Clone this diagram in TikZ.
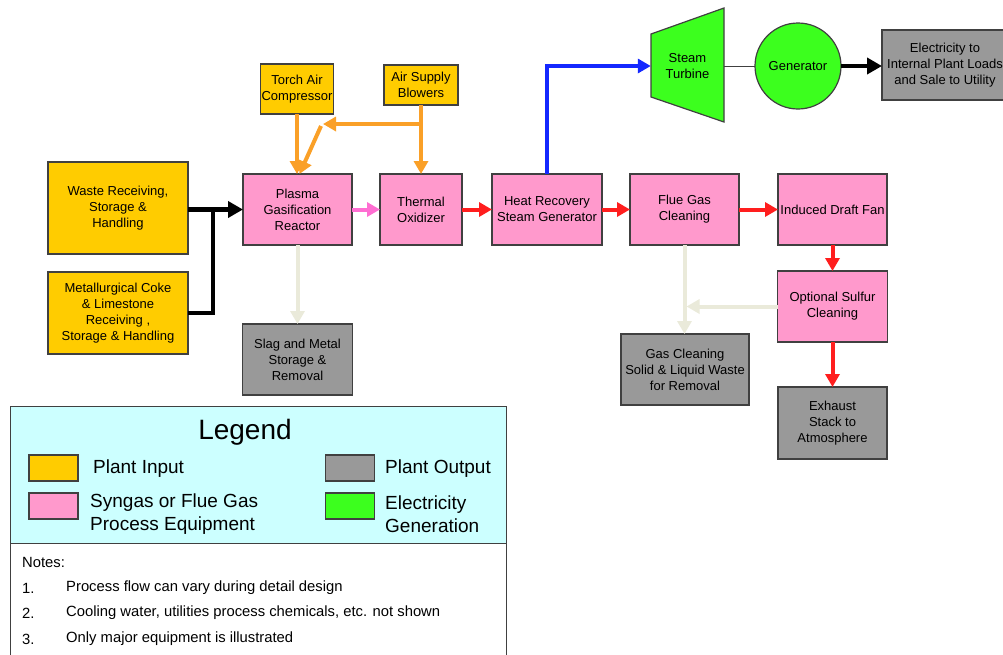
\documentclass[tikz,border=0pt]{standalone}
\usepackage{fontspec}
\setmainfont{Liberation Sans}
\usepackage{tikz}
\usetikzlibrary{arrows.meta, positioning, calc}
\definecolor{inputcolor}{RGB}{255,204,0}
\definecolor{gascolor}{RGB}{255,153,204}
\definecolor{outcolor}{RGB}{153,153,153}
\definecolor{elecolor}{RGB}{60,255,30}
\definecolor{legendcolor}{RGB}{204,255,255}
\definecolor{edgecolor}{RGB}{64,64,64}
\definecolor{aircolor}{RGB}{250,160,40}
\definecolor{fluecolor}{RGB}{255,30,30}
\definecolor{steamcolor}{RGB}{20,40,255}
\definecolor{syncolor}{RGB}{255,110,210}
\definecolor{slagcolor}{RGB}{234,234,218}

\begin{document}
\begin{tikzpicture}[
    x=1pt, y=-1pt,
    box/.style={rectangle, draw=edgecolor, line width=1.2pt, outer sep=0pt, align=center, inner sep=1pt, font=\fontsize{13}{16}\selectfont},
    inbox/.style={box, fill=inputcolor},
    gasbox/.style={box, fill=gascolor, minimum width=109pt, minimum height=71pt},
    outbox/.style={box, fill=outcolor},
    swatch/.style={rectangle, draw=edgecolor, line width=1.2pt, minimum width=49pt, minimum height=26pt, inner sep=0pt},
    legtext/.style={anchor=west, align=left, inner sep=0pt, font=\fontsize{19}{23}\selectfont},
    notetext/.style={anchor=west, inner sep=0pt, font=\fontsize{14.8}{17}\selectfont},
    flow/.style={line width=4pt, -{Triangle[length=13pt, width=14pt]}},
    feed/.style={line width=4.5pt, black},
]
\useasboundingbox (0,0) rectangle (1003,654);

% process chain
\node[gasbox] (plasma) at (297.5,209.5) {Plasma\\Gasification\\Reactor};
\node[gasbox, minimum width=82pt, right=28pt of plasma] (thermal) {Thermal\\Oxidizer};
\node[gasbox, minimum width=110pt, right=30pt of thermal] (hrsg) {Heat Recovery\\Steam Generator};
\node[gasbox, right=28pt of hrsg] (fgc) {Flue Gas\\Cleaning};
\node[gasbox, right=39pt of fgc] (idf) {Induced Draft Fan};
\node[gasbox, minimum width=110pt, below=26pt of idf] (osc) {Optional Sulfur\\Cleaning};
\node[outbox, minimum width=109pt, minimum height=72pt, below=45pt of osc] (exhaust) {Exhaust\\Stack to\\Atmosphere};
\node[outbox, minimum width=128pt, minimum height=71pt] (gcw) at (685,369.5) {Gas Cleaning\\Solid \& Liquid Waste\\for Removal};
\node[outbox, minimum width=110pt, minimum height=71pt, below=79pt of plasma] (slag) {Slag and Metal\\Storage \&\\Removal};

% inputs
\node[inbox, minimum width=140pt, minimum height=92pt] (waste) at (118,208) {Waste Receiving,\\Storage \&\\Handling};
\node[inbox, minimum width=140pt, minimum height=82pt, below=18pt of waste] (coke) {Metallurgical Coke\\\& Limestone\\Receiving ,\\Storage \& Handling};
\node[inbox, minimum width=73pt, minimum height=50pt] (torch) at (297,89) {Torch Air\\Compressor};
\node[inbox, minimum width=74pt, minimum height=40pt] (blowers) at (421,85) {Air Supply\\Blowers};

% power block
\draw[draw=edgecolor, line width=1.2pt, fill=elecolor] (651,34) -- (724,8) -- (724,122) -- (651,97) -- cycle;
\node[align=center, inner sep=0pt, minimum width=73pt, minimum height=60pt, font=\fontsize{13}{16}\selectfont] (turbine) at (687.5,66) {Steam\\Turbine};
\node[box, circle, fill=elecolor, minimum size=86pt] (gen) at (798,66) {Generator};
\node[outbox, minimum width=126pt, minimum height=70pt] (elec) at (945,65) {Electricity to\\Internal Plant Loads\\and Sale to Utility};

% feed lines
\coordinate (join) at (213,209.5);
\draw[feed] (coke.east) -| (join);
\draw[feed, -{Triangle[length=15pt, width=16pt]}] (waste.east |- join) -- (plasma.west);

% air lines
\coordinate (airsplit) at (421,124);
\coordinate (airtip) at (323,124);
\coordinate (airbend) at (321,126);
\draw[flow, aircolor] (torch.south) -- (torch.south |- plasma.north);
\draw[flow, aircolor] (blowers.south) -- (thermal.north);
\draw[flow, aircolor] (airsplit) -- (airtip);
\draw[flow, aircolor] (airbend) -- ([xshift=2pt]plasma.north);

% gas lines
\draw[flow, syncolor] (plasma) -- (thermal);
\draw[flow, fluecolor] (thermal) -- (hrsg);
\draw[flow, fluecolor] (hrsg) -- (fgc);
\draw[flow, fluecolor] (fgc) -- (idf);
\draw[flow, fluecolor] (idf.south) -- (idf.south |- osc.north);
\draw[flow, fluecolor] (osc.south) -- (osc.south |- exhaust.north);

% residue lines
\draw[flow, slagcolor] (plasma.south) -- (slag.north);
\draw[flow, slagcolor] (fgc.south) -- (fgc.south |- gcw.north);
\draw[flow, slagcolor] (osc.west) -- ([xshift=2pt]osc.west -| fgc.south);

% steam and power
\draw[flow, steamcolor] (hrsg.north) |- (turbine.west);
\draw[edgecolor, line width=0.8pt] (turbine.east) -- (gen.west);
\draw[feed, -{Triangle[length=15pt, width=16pt]}] (gen.east) -- (gen.east -| elec.west);

% legend
\node[draw=edgecolor, line width=1.2pt, fill=legendcolor, inner sep=0pt, minimum width=496pt, minimum height=137pt, anchor=north west] (legend) at (10,406) {};
\node[draw=edgecolor, line width=1.2pt, fill=white, inner sep=0pt, minimum width=496pt, minimum height=113pt, anchor=north west] (notes) at (10,543) {};
\node[font=\fontsize{28}{32}\selectfont] (legtitle) at (245,432) {Legend};
\node[swatch, fill=inputcolor] (keyin) at (53.5,468) {};
\node[swatch, fill=gascolor] (keygas) at (53.5,506) {};
\node[swatch, fill=outcolor] (keyout) at (350,468) {};
\node[swatch, fill=elecolor] (keyele) at (350,506) {};
\node[legtext] (txtin) at (93,469) {Plant Input};
\node[legtext] (txtgas) at (90,514.5) {Syngas or Flue Gas\\Process Equipment};
\node[legtext] (txtout) at (385,469) {Plant Output};
\node[legtext] (txtele) at (385,514.5) {Electricity\\Generation};

% notes
\node[notetext] (notehead) at (22,562) {Notes:};
\node[notetext] (num1) at (22,588) {1.};
\node[notetext] (num2) at (22,613) {2.};
\node[notetext] (num3) at (22,639) {3.};
\node[notetext] (note1) at (66,588) {Process flow can vary during detail design};
\node[notetext] (note2) at (66,613) {Cooling water, utilities process chemicals, etc. not shown};
\node[notetext] (note3) at (66,639) {Only major equipment is illustrated};

\end{tikzpicture}
\end{document}
